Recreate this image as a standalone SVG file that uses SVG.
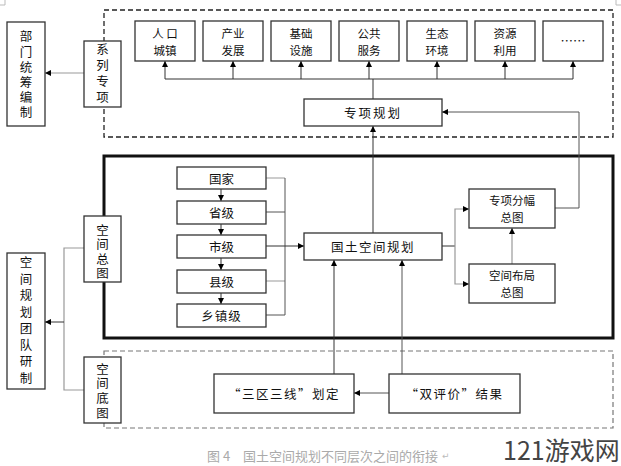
<svg xmlns="http://www.w3.org/2000/svg" width="621" height="466" viewBox="0 0 621 466">
<defs>
<marker id="ah" viewBox="0 0 10 10" refX="10" refY="5" markerWidth="6" markerHeight="6" markerUnits="userSpaceOnUse" orient="auto"><path d="M0,0 L10,5 L0,10 z" fill="#000"/></marker>
<style>
.box{fill:#fff;stroke:#333;stroke-width:1.3}
.t{font-family:"Noto Sans CJK SC","Liberation Sans",sans-serif;font-size:12.5px;fill:#111;text-anchor:middle;dominant-baseline:central}
.t2{font-family:"Noto Sans CJK SC","Liberation Sans",sans-serif;font-size:11.5px;fill:#111;text-anchor:middle;dominant-baseline:central}
.v{font-family:"Noto Sans CJK SC","Liberation Sans",sans-serif;font-size:12.5px;fill:#111;text-anchor:middle;writing-mode:vertical-rl}
.c{fill:none;stroke:#333;stroke-width:1}
.g{fill:none;stroke:#999;stroke-width:1.2}
.a{marker-end:url(#ah)}
</style>
</defs>
<rect width="621" height="466" fill="#fff"/>
<path d="M0,5 H5 V0 M616,0 V5 H621" fill="none" stroke="#bbb" stroke-width="1"/>
<g id="frames">
<rect x="104" y="10" width="509" height="127" fill="none" stroke="#222" stroke-width="1.3" stroke-dasharray="5,3"/>
<rect x="104" y="156" width="509" height="182" fill="none" stroke="#111" stroke-width="3"/>
<rect x="104" y="351" width="509" height="77" fill="none" stroke="#777" stroke-width="1.2" stroke-dasharray="5,3"/>
</g>
<g id="connectors">
<path class="g a" d="M84,73 H45"/>
<path class="c" d="M373,99 V79 M165,79 H573"/>
<path class="c a" d="M165,79 V61"/>
<path class="c a" d="M233,79 V61"/>
<path class="c a" d="M301,79 V61"/>
<path class="c a" d="M369,79 V61"/>
<path class="c a" d="M437,79 V61"/>
<path class="c a" d="M505,79 V61"/>
<path class="c a" d="M573,79 V61"/>
<path class="c a" d="M373,233 V126"/>
<path class="c a" d="M555,208 H579 V112 H442" style="stroke:#555"/>
<path class="g a" d="M512,264 V228"/>
<path class="c" d="M442,246 H455"/>
<path class="g a" d="M455,246 V209 H469"/>
<path class="g a" d="M455,246 V284 H469"/>
<path class="g" d="M266,178 H285 M266,281 H285"/>
<path class="c" d="M266,212 H285 M266,315 H285 M285,178 V315" style="stroke:#555"/>
<path class="c a" d="M266,246 H304"/>
<path class="c a" d="M221,189 V201"/>
<path class="c a" d="M221,224 V235"/>
<path class="c a" d="M221,258 V270"/>
<path class="c a" d="M221,293 V304"/>
<path class="g" d="M84,248 H64 V390 H84"/>
<path class="c a" d="M64,322 H45"/>
<path class="c a" d="M389,393 H354" style="stroke:#555"/>
<path class="c a" d="M334,374 V260"/>
<path class="c a" d="M402,374 V260" style="stroke:#555"/>
</g>
<g id="n-renkou"><rect class="box" x="135" y="21" width="60" height="40"/><text class="t2" x="165" y="32.5">人 口<tspan x="165" dy="17">城镇</tspan></text></g>
<g id="n-chanye"><rect class="box" x="203" y="21" width="60" height="40"/><text class="t2" x="233" y="32.5">产业<tspan x="233" dy="17">发展</tspan></text></g>
<g id="n-jichu"><rect class="box" x="271" y="21" width="60" height="40"/><text class="t2" x="301" y="32.5">基础<tspan x="301" dy="17">设施</tspan></text></g>
<g id="n-gonggong"><rect class="box" x="339" y="21" width="60" height="40"/><text class="t2" x="369" y="32.5">公共<tspan x="369" dy="17">服务</tspan></text></g>
<g id="n-shengtai"><rect class="box" x="407" y="21" width="60" height="40"/><text class="t2" x="437" y="32.5">生态<tspan x="437" dy="17">环境</tspan></text></g>
<g id="n-ziyuan"><rect class="box" x="475" y="21" width="60" height="40"/><text class="t2" x="505" y="32.5">资源<tspan x="505" dy="17">利用</tspan></text></g>
<g id="n-more"><rect class="box" x="543" y="21" width="60" height="40"/><text class="t" x="573" y="40">……</text></g>
<g id="n-zhuanxiang"><rect class="box" x="304" y="99" width="138" height="27"/><text class="t" x="373" y="112" letter-spacing="2">专项规划</text></g>
<g id="n-xilie"><rect class="box" x="84" y="41" width="37" height="66"/><text class="v" x="102.5" y="75" letter-spacing="3.5">系列专项</text></g>
<g id="n-bumen"><rect class="box" x="7" y="22" width="38" height="104"/><text class="v" x="26" y="76" letter-spacing="2.7">部门统筹编制</text></g>
<g id="n-guojia"><rect class="box" x="177" y="167" width="89" height="22"/><text class="t" x="221.5" y="178">国家</text></g>
<g id="n-sheng"><rect class="box" x="177" y="201" width="89" height="23"/><text class="t" x="221.5" y="212.5">省级</text></g>
<g id="n-shi"><rect class="box" x="177" y="235" width="89" height="23"/><text class="t" x="221.5" y="246.5">市级</text></g>
<g id="n-xian"><rect class="box" x="177" y="270" width="89" height="23"/><text class="t" x="221.5" y="281.5">县级</text></g>
<g id="n-xiang"><rect class="box" x="177" y="304" width="89" height="23"/><text class="t" x="221.5" y="315.5" letter-spacing="1">乡镇级</text></g>
<g id="n-guotu"><rect class="box" x="304" y="233" width="138" height="27"/><text class="t" x="373" y="246.5" letter-spacing="1.5">国土空间规划</text></g>
<g id="n-fenfu"><rect class="box" x="469" y="189" width="86" height="39"/><text class="t2" x="512" y="200">专项分幅<tspan x="512" dy="17">总图</tspan></text></g>
<g id="n-buju"><rect class="box" x="469" y="264" width="86" height="39"/><text class="t2" x="512" y="275">空间布局<tspan x="512" dy="17">总图</tspan></text></g>
<g id="n-zongtu"><rect class="box" x="84" y="216" width="37" height="66"/><text class="v" x="102.5" y="252.5" letter-spacing="2">空间总图</text></g>
<g id="n-tuandui"><rect class="box" x="7" y="253" width="38" height="136"/><text class="v" x="26" y="322" letter-spacing="4">空间规划团队研制</text></g>
<g id="n-ditu"><rect class="box" x="84" y="357" width="37" height="66"/><text class="v" x="102.5" y="392" letter-spacing="2.2">空间底图</text></g>
<g id="n-sanqu"><rect class="box" x="214" y="374" width="140" height="39"/><text class="t" x="284" y="393.5" letter-spacing="1.5">“三区三线”划定</text></g>
<g id="n-shuang"><rect class="box" x="389" y="374" width="131" height="39"/><text class="t" x="454.5" y="393.5" letter-spacing="1.5">“双评价”结果</text></g>
<g id="caption">
<text x="207" y="455" font-family="Noto Sans CJK SC, sans-serif" font-size="13" fill="#aaa" dominant-baseline="central">图 4</text>
<text x="243" y="455" font-family="Noto Sans CJK SC, sans-serif" font-size="13" fill="#aaa" dominant-baseline="central">国土空间规划不同层次之间的衔接</text>
<text x="442" y="456" font-family="DejaVu Sans, sans-serif" font-size="9" fill="#bbb" dominant-baseline="central">↵</text>
<text x="503" y="449" font-family="Noto Sans CJK SC, sans-serif" font-size="25" fill="#444" dominant-baseline="central">121游戏网</text>
</g>
</svg>
